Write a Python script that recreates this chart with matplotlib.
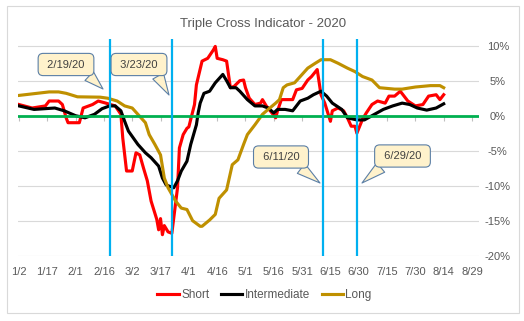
import matplotlib
matplotlib.use("Agg")
import matplotlib.pyplot as plt
import matplotlib.dates as mdates
from matplotlib.patches import Rectangle
import pandas as pd

# Short (red) series, % values
short_dates = ["1/2", "1/9", "1/16", "1/18", "1/23", "1/25", "1/27", "1/28", "2/3", "2/5",
               "2/10", "2/13", "2/17", "2/22", "2/25", "2/26", "2/28", "3/2", "3/4", "3/6",
               "3/8", "3/10", "3/12", "3/15", "3/16", "3/17", "3/18", "3/19", "3/21", "3/23",
               "3/26", "3/27", "3/29", "3/31", "4/1", "4/4", "4/5", "4/8", "4/11", "4/14",
               "4/15", "4/16", "4/19", "4/21", "4/22", "4/23", "4/25", "4/28", "4/30", "5/1",
               "5/3", "5/6", "5/9", "5/10", "5/12", "5/15", "5/17", "5/18", "5/20", "5/26",
               "5/28", "5/31", "6/3", "6/5", "6/8", "6/10", "6/12", "6/15", "6/16", "6/19",
               "6/22", "6/24", "6/26", "6/28", "6/29", "7/2", "7/4", "7/7", "7/10", "7/14",
               "7/16", "7/19", "7/22", "7/26", "7/30", "8/3", "8/6", "8/10", "8/12", "8/14"]
short_vals = [1.6, 1.1, 1.4, 2.1, 2.1, 1.6, -0.3, -1.0, -1.0, 1.1,
              1.6, 2.1, 1.8, 1.4, 0.2, -3.2, -7.9, -7.9, -5.3, -5.6,
              -7.5, -9.3, -12.2, -14.8, -16.3, -14.7, -17.0, -15.7, -16.6, -16.8,
              -10.3, -4.6, -2.7, -1.8, -1.6, 1.6, 4.4, 7.8, 8.2, 9.4,
              9.9, 8.2, 8.0, 7.8, 5.9, 4.0, 4.2, 5.0, 5.1, 4.0,
              2.5, 1.6, 1.8, 2.3, 1.4, 0.4, -0.3, 0.7, 2.3, 2.3,
              3.7, 3.9, 5.1, 5.6, 6.6, 3.0, 1.8, -0.8, 0.7, 1.1,
              0.7, -0.3, -1.5, -1.5, -2.5, -0.5, 0.4, 1.6, 2.1, 1.8,
              2.8, 2.8, 3.5, 2.1, 1.4, 1.6, 2.8, 3.0, 2.3, 3.0]

# Intermediate (black) series
inter_dates = ["1/2", "1/10", "1/21", "1/26", "2/1", "2/6", "2/11", "2/15", "2/19", "2/22",
               "2/25", "2/27", "2/29", "3/5", "3/9", "3/12", "3/16", "3/18", "3/20", "3/24",
               "3/26", "3/28", "3/31", "4/2", "4/5", "4/6", "4/7", "4/9", "4/12", "4/15",
               "4/18", "4/19", "4/21", "4/23", "4/26", "4/28", "5/2", "5/6", "5/10", "5/13",
               "5/16", "5/18", "5/22", "5/26", "5/30", "6/3", "6/6", "6/10", "6/13", "6/16",
               "6/21", "6/24", "6/29", "7/3", "7/7", "7/13", "7/18", "7/23", "7/27", "7/31",
               "8/5", "8/10", "8/14"]
inter_vals = [1.4, 0.9, 1.1, 0.7, 0.0, -0.3, 0.2, 1.0, 1.4, 1.4,
              0.7, -0.8, -2.2, -4.1, -5.3, -6.0, -7.2, -8.9, -9.9, -10.3,
              -9.3, -7.9, -6.5, -4.1, -1.3, 0.5, 1.8, 3.2, 3.5, 4.7,
              5.6, 5.9, 5.0, 4.0, 4.0, 3.5, 2.3, 1.4, 1.4, 1.1,
              0.4, 0.9, 0.9, 0.7, 2.1, 2.5, 3.0, 3.5, 2.8, 1.8,
              0.9, -0.3, -0.6, -0.6, 0.0, 0.9, 1.4, 1.8, 1.6, 1.1,
              0.8, 1.1, 1.7]

# Long (gold) series
long_dates = ["1/2", "1/18", "1/23", "1/27", "2/2", "2/14", "2/18", "2/23", "2/27", "3/2",
              "3/5", "3/9", "3/11", "3/14", "3/17", "3/19", "3/21", "3/25", "3/28", "3/31",
              "4/3", "4/7", "4/8", "4/12", "4/15", "4/17", "4/21", "4/24", "4/27", "4/30",
              "5/2", "5/6", "5/10", "5/13", "5/17", "5/19", "5/21", "5/23", "5/27", "5/31",
              "6/3", "6/7", "6/10", "6/15", "6/19", "6/24", "6/28", "7/2", "7/7", "7/11",
              "7/19", "7/23", "7/30", "8/7", "8/12", "8/14"]
long_vals = [2.9, 3.4, 3.4, 3.2, 2.7, 2.65, 2.5, 2.1, 1.4, 1.1,
             0.2, -1.0, -2.7, -4.1, -5.6, -8.9, -10.3, -12.2, -13.2, -13.4,
             -15.0, -15.8, -15.8, -14.9, -14.1, -11.8, -10.6, -7.0, -6.3, -4.1,
             -2.7, -1.3, 0.2, 0.9, 1.8, 2.3, 4.0, 4.4, 4.7, 5.9,
             6.8, 7.5, 8.0, 8.0, 7.5, 6.8, 6.3, 5.6, 5.1, 4.0,
             3.8, 3.8, 4.1, 4.3, 4.3, 4.0]

event_dates = ["2/19", "3/23", "6/11", "6/29"]
event_labels = ["2/19/20", "3/23/20", "6/11/20", "6/29/20"]
y_ticks = [-20, -15, -10, -5, 0, 5, 10]


def to_dates(md):
    return pd.to_datetime([d + "/2020" for d in md], format="%m/%d/%Y")


plt.rcParams["font.family"] = ["Liberation Sans", "DejaVu Sans"]
grey = "#595959"

fig = plt.figure(figsize=(5.24, 3.21), dpi=100)
fig.patches.append(Rectangle((7 / 524, 8 / 321), 512 / 524, 307 / 321, transform=fig.transFigure,
                             fill=False, edgecolor="#D9D9D9", linewidth=0.8))
ax = fig.add_axes([18 / 524, 65.3 / 321, 461 / 524, 216.7 / 321])

start = pd.Timestamp("2020-01-02")
ax.set_xlim(start - pd.Timedelta(days=0.5), start + pd.Timedelta(days=243.7))
ax.set_ylim(-20, 10.96)

l1, = ax.plot(to_dates(short_dates), short_vals, color="#FF0000", lw=2.25, label="Short", zorder=3)
l2, = ax.plot(to_dates(inter_dates), inter_vals, color="#000000", lw=2.25, label="Intermediate", zorder=3)
l3, = ax.plot(to_dates(long_dates), long_vals, color="#BF9000", lw=2.25, label="Long", zorder=3)
ax.axhline(0, color="#00B050", lw=2.0, zorder=4)

for d in to_dates(event_dates):
    ax.axvline(d, color="#00B0F0", lw=1.6, zorder=5)

# axes styling
for s in ax.spines.values():
    s.set_visible(False)
ax.yaxis.tick_right()
ax.set_yticks(y_ticks)
ax.set_yticklabels([f"{v}%" for v in y_ticks])
ax.tick_params(axis="y", length=0, pad=13.5, labelsize=8, labelcolor=grey)
for lab in ax.get_yticklabels():
    lab.set_horizontalalignment("center")
ax.grid(axis="y", color="#D9D9D9", lw=0.8)
ax.set_axisbelow(True)

xt = pd.date_range(start, periods=17, freq="15D")
ax.set_xticks(xt)
ax.spines["bottom"].set_position(("data", 0))
ax.tick_params(axis="x", direction="out", length=3.5, color="#BFBFBF", labelbottom=False)

sec = ax.secondary_xaxis("bottom")
sec.set_xticks(mdates.date2num(xt))
sec.set_xticklabels([f"{d.month}/{d.day}" for d in xt])
sec.tick_params(length=0, pad=8, labelsize=8, labelcolor=grey)
sec.spines["bottom"].set_visible(False)

fig.text(263 / 524, 1 - 24 / 321, "Triple Cross Indicator - 2020", ha="center", va="center",
         fontsize=9.5, color=grey)

# callouts (figure pixel positions)
box_xy = [(66, 256.5), (139, 256.5), (281, 164), (402.5, 165)]
tip_xy = [(103, 232), (169, 226), (320, 138), (362, 138)]
rel = [(0.85, 0.1), (0.84, 0.1), (0.74, 0.1), (0.21, 0.1)]
for lab, bxy, txy, rp in zip(event_labels, box_xy, tip_xy, rel):
    ax.annotate(" " + lab + " ", xy=txy, xycoords="figure pixels", xytext=bxy,
                textcoords="figure pixels", ha="center", va="center", fontsize=8,
                color="#404040", zorder=6,
                bbox=dict(boxstyle="round,pad=0.55,rounding_size=0.45", fc="#FFF2CC",
                          ec="#5B7FA6", lw=0.8),
                arrowprops=dict(arrowstyle="wedge,tail_width=1.1,shrink_factor=0.5",
                                fc="#FFF2CC", ec="#5B7FA6", lw=0.8, relpos=rp,
                                shrinkA=0, shrinkB=0))

fig.legend(handles=[l1, l2, l3], loc="center", bbox_to_anchor=(264.5 / 524, 26 / 321),
           ncol=3, frameon=False, fontsize=8.5, labelcolor=grey, handlelength=1.8,
           handletextpad=0.2, columnspacing=1.0)

fig.savefig("out.png", dpi=100)
